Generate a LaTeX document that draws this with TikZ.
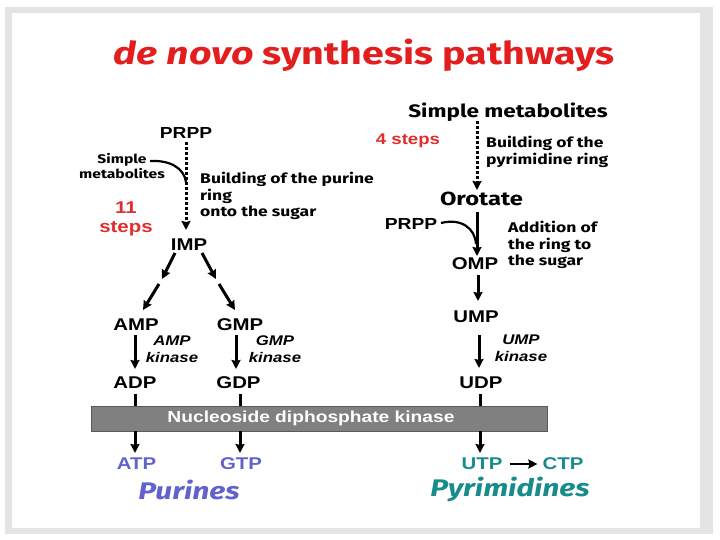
\documentclass[tikz,border=0pt]{standalone}
\usepackage{fontspec}
\setmainfont{Liberation Sans}[FakeStretch=1.2]
\newfontfamily\comic{Fira Sans}[FakeStretch=1.25]
\usetikzlibrary{arrows.meta,calc}
\definecolor{titlered}{RGB}{226,30,30}
\definecolor{stepred}{RGB}{225,45,45}
\definecolor{purblue}{RGB}{98,98,206}
\definecolor{pyrteal}{RGB}{24,140,140}
\definecolor{barfill}{RGB}{128,128,128}
\definecolor{framegray}{RGB}{228,228,228}
\tikzset{
  arial/.style={font=\fontsize{17}{19}\selectfont\bfseries, inner sep=0pt},
  com/.style={font=\comic\bfseries\fontsize{14}{16.5}\selectfont, inner sep=0pt},
  kin/.style={font=\fontsize{14}{17}\selectfont\bfseries\itshape, inner sep=0pt, align=center},
  arr/.style={line width=3pt, -{Stealth[length=9pt,width=9pt,inset=1pt]}},
  dotarr/.style={line width=3pt, dash pattern=on 3pt off 2pt, -{Stealth[length=9pt,width=9pt,inset=1pt]}},
  plain/.style={line width=3pt},
  curvearr/.style={line width=2.2pt},
}
\begin{document}
\begin{tikzpicture}[x=1pt,y=-1pt]
\useasboundingbox (0,0) rectangle (720,540);
\fill[framegray] (5,7) rectangle (713,534);
\fill[white] (12,13) rectangle (700,528);

% title
\node[font=\comic\bfseries\fontsize{31.5}{34}\selectfont, text=titlered, inner sep=0pt] (title) at (364,55) {\textit{de novo} synthesis pathways};

% ---------- purines ----------
\node[arial, font=\fontsize{16}{18}\selectfont\bfseries] (prppA) at (186,133) {PRPP};
\node[com, font=\comic\bfseries\fontsize{12.5}{15}\selectfont, align=center] (simpA) at (122,166) {Simple\\metabolites};
\node[arial, text=stepred, align=center, font=\fontsize{17}{19.5}\selectfont\bfseries] (elev) at (126,219) {11\\steps};
\node[com, align=left, anchor=north west] (buildA) at (200,172) {Building of the purine\\ring\\onto the sugar};
\node[arial] (imp) at (189,245) {IMP};
\coordinate (sA) at (150,161);
\coordinate (jA) at (186,182);
\draw[dotarr] (186,142) -- (186,230);
\draw[curvearr] (sA) .. controls (170,160) and (184,168) .. (jA);

\node[arial] (amp) at (136,325) {AMP};
\node[arial] (gmp) at (240,325) {GMP};
\coordinate (l1) at (175,253); \coordinate (l2) at (162,279);
\coordinate (l3) at (159,284); \coordinate (l4) at (143,310);
\coordinate (r1) at (202,253); \coordinate (r2) at (216,279);
\coordinate (r3) at (219,284); \coordinate (r4) at (235,310);
\draw[arr] (l1) -- (l2);
\draw[arr] (l3) -- (l4);
\draw[arr] (r1) -- (r2);
\draw[arr] (r3) -- (r4);

\node[arial] (adp) at (135,383) {ADP};
\node[arial] (gdp) at (238.5,383) {GDP};
\draw[arr] (135,335) -- (135,369);
\draw[arr] (236,335) -- (236,369);
\node[kin] (ampk) at (172,349) {AMP\\kinase};
\node[kin] (gmpk) at (275,349) {GMP\\kinase};

% bar
\node[draw=barfill!70!black, line width=0.6pt, fill=barfill, minimum width=456pt, minimum height=25pt, inner sep=0pt] (ndk) at (319,418.5) {};
\node[font=\fontsize{16}{18}\selectfont\bfseries, text=white, inner sep=0pt] (ndktxt) at (311,418.5) {Nucleoside diphosphate kinase};

\node[arial, text=purblue] (atp) at (136.5,464) {ATP};
\node[arial, text=purblue] (gtp) at (241,464) {GTP};
\coordinate (a1) at (135,394); \coordinate (g1) at (240,394); \coordinate (u1) at (480,394);
\draw[plain] (a1) -- (a1 |- ndk.north);
\draw[plain] (g1) -- (g1 |- ndk.north);
\draw[plain] (u1) -- (u1 |- ndk.north);
\draw[arr] (a1 |- ndk.south) -- (135,453);
\draw[arr] (g1 |- ndk.south) -- (240,453);
\node[font=\comic\bfseries\itshape\fontsize{24}{28}\selectfont, text=purblue, inner sep=0pt] (pur) at (189,490) {Purines};

% ---------- pyrimidines ----------
\node[com, font=\comic\bfseries\fontsize{18}{20}\selectfont] (simpB) at (508,112) {Simple metabolites};
\node[arial, text=stepred, font=\fontsize{15.5}{18}\selectfont\bfseries] (four) at (408,141) {4 steps};
\node[com, align=left, anchor=north west] (buildB) at (486,136) {Building of the\\pyrimidine ring};
\node[com, font=\comic\bfseries\fontsize{19}{21}\selectfont] (orot) at (481.5,199) {Orotate};
\draw[dotarr] (477,121) -- (477,190);
\node[arial, font=\fontsize{16}{18}\selectfont\bfseries] (prppB) at (411,224) {PRPP};
\node[arial] (omp) at (475,264) {OMP};
\draw[arr] (477,212) -- (477,256);
\coordinate (sB) at (441,223);
\coordinate (jB) at (476,244);
\draw[curvearr] (sB) .. controls (461,218) and (475,228) .. (jB);
\node[com, align=left, anchor=north west] (addn) at (508,221) {Addition of\\the ring to\\the sugar};
\node[arial] (ump) at (476,317) {UMP};
\draw[arr] (478,275) -- (478,301);
\node[arial] (udp) at (481,383) {UDP};
\draw[arr] (479,335) -- (479,368);
\node[kin] (umpk) at (521,348) {UMP\\kinase};
\draw[arr] (u1 |- ndk.south) -- (480,453);
\node[arial, text=pyrteal] (utp) at (482,464) {UTP};
\node[arial, text=pyrteal] (ctp) at (563,464) {CTP};
\draw[arr, line width=2.4pt] ([xshift=7pt]utp.east) -- ([xshift=-5pt]ctp.west);
\node[font=\comic\bfseries\itshape\fontsize{24}{28}\selectfont, text=pyrteal, inner sep=0pt] (pyr) at (510,489) {Pyrimidines};
\end{tikzpicture}
\end{document}
